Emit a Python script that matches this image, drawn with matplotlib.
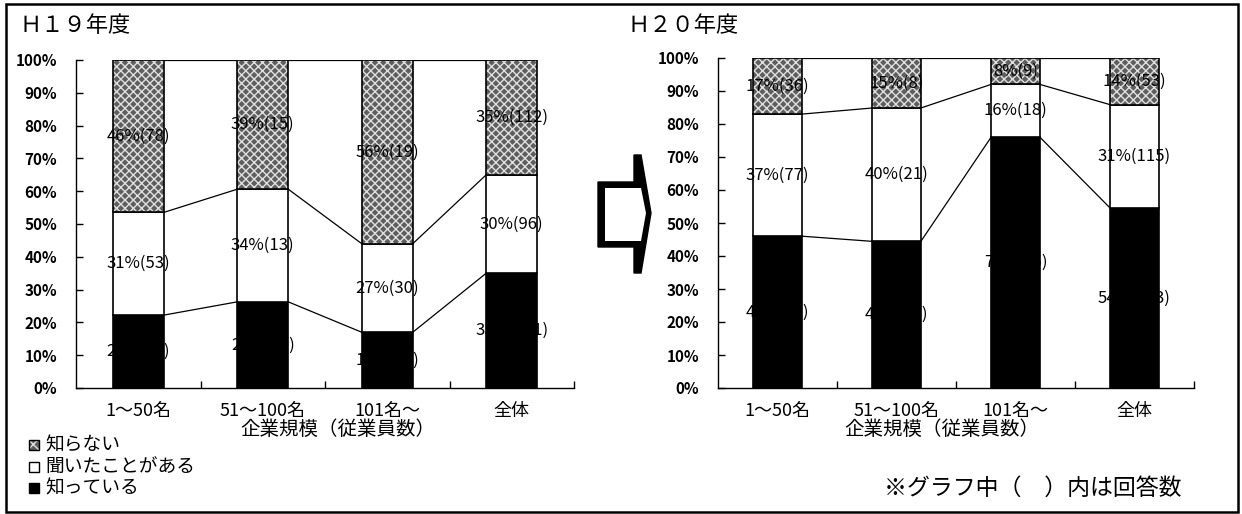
import matplotlib
matplotlib.use("Agg")
import matplotlib.pyplot as plt
from matplotlib.patches import Polygon, Rectangle
import numpy as np

plt.rcParams['font.family'] = ['Noto Sans CJK JP', 'DejaVu Sans']
plt.rcParams['hatch.linewidth'] = 1.0

categories = ['1～50名', '51～100名', '101名～', '全体']
series_names = ['知っている', '聞いたことがある', '知らない']

# H19 (percent values as printed)
h19_known = [22, 26, 17, 35]
h19_heard = [31, 34, 27, 30]
h19_unknown = [46, 39, 56, 35]
h19_known_lbl = ['22%(39)', '26%(10)', '17%(19)', '35%(111)']
h19_heard_lbl = ['31%(53)', '34%(13)', '27%(30)', '30%(96)']
h19_unknown_lbl = ['46%(78)', '39%(15)', '56%(19)', '35%(112)']

# H20
h20_known = [46, 44, 76, 54]
h20_heard = [37, 40, 16, 31]
h20_unknown = [17, 15, 8, 14]
h20_known_lbl = ['46%(95)', '44%(23)', '76%(85)', '54%(203)']
h20_heard_lbl = ['37%(77)', '40%(21)', '16%(18)', '31%(115)']
h20_unknown_lbl = ['17%(36)', '15%(8)', '8%(9)', '14%(53)']

W, H = 1242, 514
fig = plt.figure(figsize=(W / 100, H / 100), dpi=100)

STIP_FACE = '#5e5e5e'
STIP_HATCH = '#e0e0e0'
LBL_FS = 12


def ax_rect(x0, x1, y0, y1):
    return [x0 / W, (H - y1) / H, (x1 - x0) / W, (y1 - y0) / H]


def draw_panel(ax, known, heard, unknown, lk, lh, lu):
    known = np.array(known, float)
    heard = np.array(heard, float)
    unknown = np.array(unknown, float)
    tot = known + heard + unknown
    k = known / tot * 100
    h = heard / tot * 100
    u = unknown / tot * 100
    x = np.arange(len(categories))
    bw = 0.41
    ax.bar(x, k, bw, color='black', edgecolor='black', linewidth=1.2, zorder=3)
    ax.bar(x, h, bw, bottom=k, color='white', edgecolor='black', linewidth=1.2, zorder=3)
    ax.bar(x, u, bw, bottom=k + h, color=STIP_FACE, edgecolor=STIP_HATCH,
           hatch='xxxx', linewidth=0, zorder=3)
    ax.bar(x, u, bw, bottom=k + h, fill=False, edgecolor='black', linewidth=1.2, zorder=4)
    for lev in [k, k + h, k + h + u]:
        for i in range(len(x) - 1):
            ax.plot([x[i] + bw / 2, x[i + 1] - bw / 2], [lev[i], lev[i + 1]],
                    color='black', linewidth=0.9, zorder=2)
    for i in range(len(x)):
        ax.text(x[i], k[i] / 2, lk[i], ha='center', va='center', fontsize=LBL_FS,
                color='black', zorder=5)
        ax.text(x[i], k[i] + h[i] / 2, lh[i], ha='center', va='center', fontsize=LBL_FS, zorder=5)
        ax.text(x[i], k[i] + h[i] + u[i] / 2, lu[i], ha='center', va='center',
                fontsize=LBL_FS, zorder=5)
    ax.set_xlim(-0.5, 3.5)
    ax.set_ylim(0, 100)
    ax.set_yticks(np.arange(0, 101, 10))
    ax.set_yticklabels([f'{v}%' for v in range(0, 101, 10)], fontsize=11, fontweight='bold')
    ax.set_xticks([0.5, 1.5, 2.5, 3.5])
    ax.set_xticklabels([])
    ax.tick_params(axis='y', direction='in', length=5, width=1, pad=13.5)
    ax.tick_params(axis='x', direction='in', length=5, width=1)
    for s in ['top', 'right']:
        ax.spines[s].set_visible(False)
    for s in ['left', 'bottom']:
        ax.spines[s].set_linewidth(1.0)
    ax.patch.set_alpha(0)
    return x


ax1 = fig.add_axes(ax_rect(76, 574, 60, 388))
draw_panel(ax1, h19_known, h19_heard, h19_unknown, h19_known_lbl, h19_heard_lbl, h19_unknown_lbl)
ax2 = fig.add_axes(ax_rect(718, 1194, 58, 388))
draw_panel(ax2, h20_known, h20_heard, h20_unknown, h20_known_lbl, h20_heard_lbl, h20_unknown_lbl)


def ftext(x, y, s, **kw):
    fig.text(x / W, 1 - y / H, s, **kw)


for ax in (ax1, ax2):
    for i, c in enumerate(categories):
        xd, _ = ax.transData.transform((i, 0))
        fig.text(xd / W, 1 - 411 / H, c, ha='center', va='center', fontsize=13)

ftext(338, 429, '企業規模（従業員数）', ha='center', va='center', fontsize=14)
ftext(942, 429, '企業規模（従業員数）', ha='center', va='center', fontsize=14)

ftext(20, 26, 'Ｈ１９年度', ha='left', va='center', fontsize=16)
ftext(628, 26, 'Ｈ２０年度', ha='left', va='center', fontsize=16)

leg_items = [('知らない', 445), ('聞いたことがある', 467), ('知っている', 488)]
for name, yy in leg_items:
    if name == '知らない':
        fig.add_artist(Rectangle((29, H - yy - 5), 10, 10, transform=None, facecolor=STIP_FACE,
                                 edgecolor=STIP_HATCH, hatch='xxx', linewidth=0))
        fig.add_artist(Rectangle((29, H - yy - 5), 10, 10, transform=None, fill=False,
                                 edgecolor='black', linewidth=1))
    elif name == '聞いたことがある':
        fig.add_artist(Rectangle((29, H - yy - 5), 10, 10, transform=None, facecolor='white',
                                 edgecolor='black', linewidth=1))
    else:
        fig.add_artist(Rectangle((29, H - yy - 5), 10, 10, transform=None, facecolor='black',
                                 edgecolor='black', linewidth=1))
    ftext(45, yy, name, ha='left', va='center', fontsize=13.5)

ftext(1182, 488, '※グラフ中（　）内は回答数', ha='right', va='center', fontsize=16.5)


def P(pts):
    return [(px, H - py) for px, py in pts]


outer = P([(598, 182), (634, 182), (634, 155), (641, 155), (651, 213), (641, 273),
           (634, 273), (634, 247), (598, 247)])
inner = P([(605, 188), (641, 188), (646, 213), (641, 241), (605, 241)])
fig.add_artist(Polygon(outer, closed=True, transform=None, facecolor='black', edgecolor='black'))
fig.add_artist(Polygon(inner, closed=True, transform=None, facecolor='white', edgecolor='none'))

fig.add_artist(Rectangle((6, H - 512), 1232, 508, transform=None, fill=False,
                         edgecolor='black', linewidth=1.8))

fig.savefig('out.png', dpi=100)
